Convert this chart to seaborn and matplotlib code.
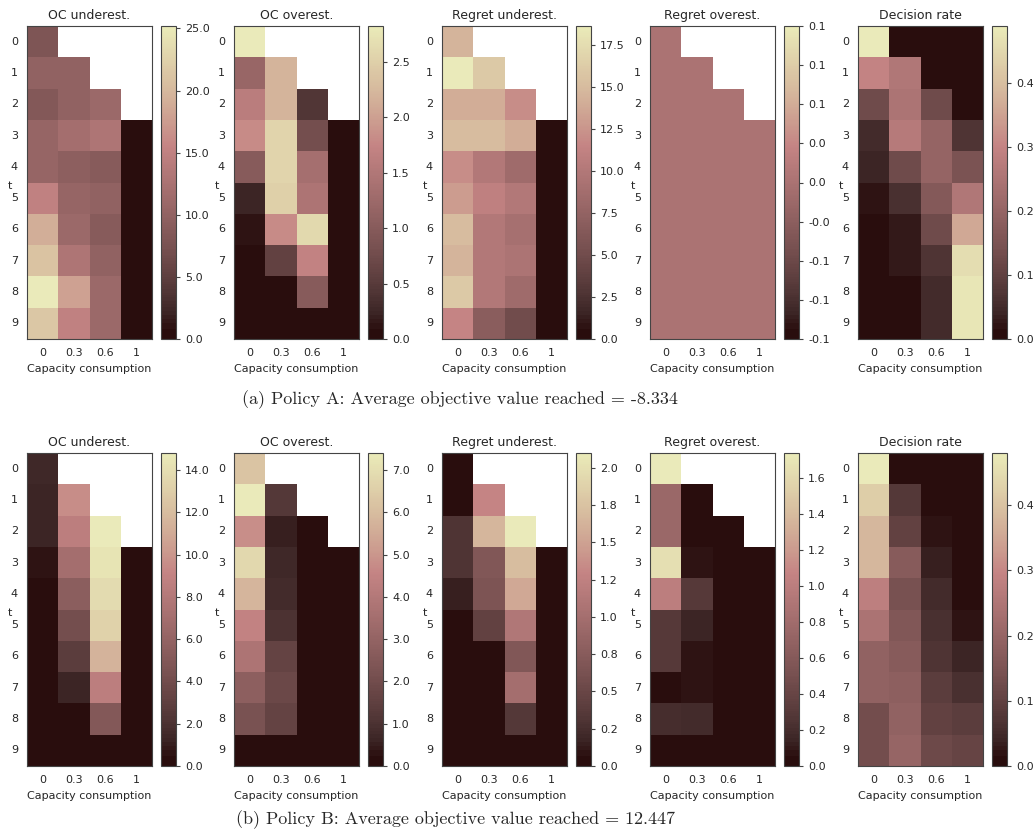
import numpy as np
import matplotlib
matplotlib.use("Agg")
import matplotlib.pyplot as plt
from matplotlib.colors import ListedColormap
import seaborn as sns

nan = np.nan
capacity_labels = ["0", "0.3", "0.6", "1"]
t_labels = [str(i) for i in range(10)]
panel_titles = ["OC underest.", "OC overest.", "Regret underest.", "Regret overest.", "Decision rate"]
captions = ["(a) Policy A: Average objective value reached = -8.334",
            "(b) Policy B: Average objective value reached = 12.447"]

# ---- Policy A ----
a_oc_under = [
    [8.0, nan, nan, nan],
    [10.0, 10.0, nan, nan],
    [8.5, 10.0, 11.0, nan],
    [10.5, 12.0, 13.0, 0.0],
    [10.5, 9.5, 9.0, 0.0],
    [15.0, 10.5, 10.0, 0.0],
    [19.0, 11.0, 9.0, 0.0],
    [21.0, 13.0, 10.0, 0.0],
    [25.2, 18.0, 11.0, 0.0],
    [21.5, 15.0, 11.0, 0.0],
]
a_oc_over = [
    [2.82, nan, nan, nan],
    [1.2, 2.2, nan, nan],
    [1.6, 2.2, 0.45, nan],
    [1.8, 2.55, 0.8, 0.0],
    [1.0, 2.55, 1.35, 0.0],
    [0.25, 2.5, 1.45, 0.0],
    [0.1, 1.8, 2.6, 0.0],
    [0.0, 0.6, 1.7, 0.0],
    [0.0, 0.0, 1.0, 0.0],
    [0.0, 0.0, 0.0, 0.0],
]
a_reg_under = [
    [14.5, nan, nan, nan],
    [18.6, 16.0, nan, nan],
    [14.0, 14.0, 12.0, nan],
    [15.0, 15.0, 14.0, 0.0],
    [12.0, 10.0, 8.5, 0.0],
    [13.0, 11.0, 10.0, 0.0],
    [15.0, 10.0, 9.0, 0.0],
    [14.5, 10.0, 9.5, 0.0],
    [16.0, 10.0, 8.5, 0.0],
    [11.5, 6.8, 5.0, 0.0],
]
a_reg_over = [
    [0.0, nan, nan, nan],
    [0.0, 0.0, nan, nan],
    [0.0, 0.0, 0.0, nan],
    [0.0, 0.0, 0.0, 0.0],
    [0.0, 0.0, 0.0, 0.0],
    [0.0, 0.0, 0.0, 0.0],
    [0.0, 0.0, 0.0, 0.0],
    [0.0, 0.0, 0.0, 0.0],
    [0.0, 0.0, 0.0, 0.0],
    [0.0, 0.0, 0.0, 0.0],
]
a_decision = [
    [0.49, 0.0, 0.0, 0.0],
    [0.30, 0.26, 0.0, 0.0],
    [0.13, 0.25, 0.13, 0.0],
    [0.05, 0.27, 0.20, 0.07],
    [0.04, 0.13, 0.20, 0.15],
    [0.02, 0.06, 0.17, 0.26],
    [0.01, 0.03, 0.13, 0.36],
    [0.01, 0.03, 0.07, 0.46],
    [0.01, 0.01, 0.05, 0.48],
    [0.01, 0.01, 0.05, 0.48],
]

# ---- Policy B ----
b_oc_under = [
    [1.5, nan, nan, nan],
    [1.3, 9.5, nan, nan],
    [1.3, 8.5, 14.8, nan],
    [0.5, 7.0, 14.3, 0.0],
    [0.4, 5.5, 13.8, 0.0],
    [0.3, 4.2, 13.2, 0.0],
    [0.1, 2.8, 11.5, 0.0],
    [0.1, 1.3, 8.5, 0.0],
    [0.0, 0.0, 5.0, 0.0],
    [0.0, 0.0, 0.0, 0.0],
]
b_oc_over = [
    [6.2, nan, nan, nan],
    [7.4, 1.2, nan, nan],
    [4.8, 0.5, 0.0, nan],
    [6.8, 0.7, 0.0, 0.0],
    [5.8, 0.8, 0.0, 0.0],
    [4.5, 1.0, 0.0, 0.0],
    [3.8, 1.6, 0.0, 0.0],
    [2.8, 1.8, 0.0, 0.0],
    [2.2, 1.6, 0.0, 0.0],
    [0.0, 0.0, 0.0, 0.0],
]
b_reg_under = [
    [0.02, nan, nan, nan],
    [0.02, 1.3, nan, nan],
    [0.3, 1.65, 2.1, nan],
    [0.3, 0.7, 1.7, 0.0],
    [0.15, 0.65, 1.55, 0.0],
    [0.02, 0.45, 1.1, 0.0],
    [0.0, 0.0, 0.7, 0.0],
    [0.0, 0.05, 1.0, 0.0],
    [0.0, 0.0, 0.35, 0.0],
    [0.0, 0.0, 0.0, 0.0],
]
b_reg_over = [
    [1.74, nan, nan, nan],
    [0.75, 0.05, nan, nan],
    [0.75, 0.02, 0.0, nan],
    [1.65, 0.08, 0.0, 0.0],
    [1.0, 0.3, 0.0, 0.0],
    [0.3, 0.15, 0.0, 0.0],
    [0.3, 0.08, 0.0, 0.0],
    [0.02, 0.08, 0.0, 0.0],
    [0.2, 0.18, 0.0, 0.0],
    [0.0, 0.0, 0.0, 0.0],
]
b_decision = [
    [0.48, 0.0, 0.0, 0.0],
    [0.42, 0.08, 0.0, 0.0],
    [0.38, 0.10, 0.02, 0.0],
    [0.38, 0.17, 0.03, 0.0],
    [0.28, 0.14, 0.05, 0.01],
    [0.24, 0.16, 0.06, 0.02],
    [0.19, 0.17, 0.07, 0.04],
    [0.19, 0.18, 0.09, 0.06],
    [0.13, 0.19, 0.10, 0.09],
    [0.13, 0.20, 0.12, 0.11],
]

rows = [
    [a_oc_under, a_oc_over, a_reg_under, a_reg_over, a_decision],
    [b_oc_under, b_oc_over, b_reg_under, b_reg_over, b_decision],
]

# colormap: matplotlib's "pink", sampled non-linearly up to 0.75, lightly washed
xs = np.linspace(0.0, 1.0, 256)
base = matplotlib.colormaps["pink"](0.75 * xs ** 1.5)
base[:, :3] = base[:, :3] * 0.95 + 0.05
cmap = ListedColormap(base)

sns.set_style("white")
plt.rcParams["font.family"] = ["DejaVu Sans"]

W, H = 1035, 839
fig = plt.figure(figsize=(W / 100, H / 100), dpi=100)

hm_left = [27, 234, 442, 650, 858]
cb_left = [161, 368, 576, 784, 992]
row_top = [26, 453]
hm_w, hm_h, cb_w = 125, 313, 15

def px_rect(x, top, w, h):
    return [x / W, (H - top - h) / H, w / W, h / H]

for r, row in enumerate(rows):
    for c, data in enumerate(row):
        ax = fig.add_axes(px_rect(hm_left[c], row_top[r], hm_w, hm_h))
        cax = fig.add_axes(px_rect(cb_left[c], row_top[r], cb_w, hm_h))
        sns.heatmap(np.array(data, dtype=float), ax=ax, cbar_ax=cax, cmap=cmap,
                    xticklabels=capacity_labels, yticklabels=t_labels,
                    cbar_kws={"format": "%.1f"})
        for s in ax.spines.values():
            s.set_visible(True)
            s.set_linewidth(0.8)
            s.set_color("#444444")
        cb = ax.collections[0].colorbar
        cb.outline.set_linewidth(0.8)
        cb.outline.set_edgecolor("#444444")
        ax.tick_params(axis="both", length=3, width=0.8, labelsize=8, color="#444444")
        cax.tick_params(length=3, width=0.8, labelsize=8, color="#444444")
        ax.set_yticklabels(t_labels, rotation=0)
        ax.set_xticklabels(capacity_labels, rotation=0)
        ax.set_xlabel("Capacity consumption", fontsize=8)
        ax.set_ylabel("t", fontsize=8, rotation=0, ha="center", va="center")
        ax.yaxis.set_label_coords(-0.14, 0.49)
        ax.set_title(panel_titles[c], fontsize=9, pad=5)

fig.text(460 / W, 1 - 400 / H, captions[0], ha="center", va="center",
         fontfamily="cmr10", fontsize=13)
fig.text(456 / W, 1 - 820 / H, captions[1], ha="center", va="center",
         fontfamily="cmr10", fontsize=13)

fig.savefig("out.png", dpi=100)
